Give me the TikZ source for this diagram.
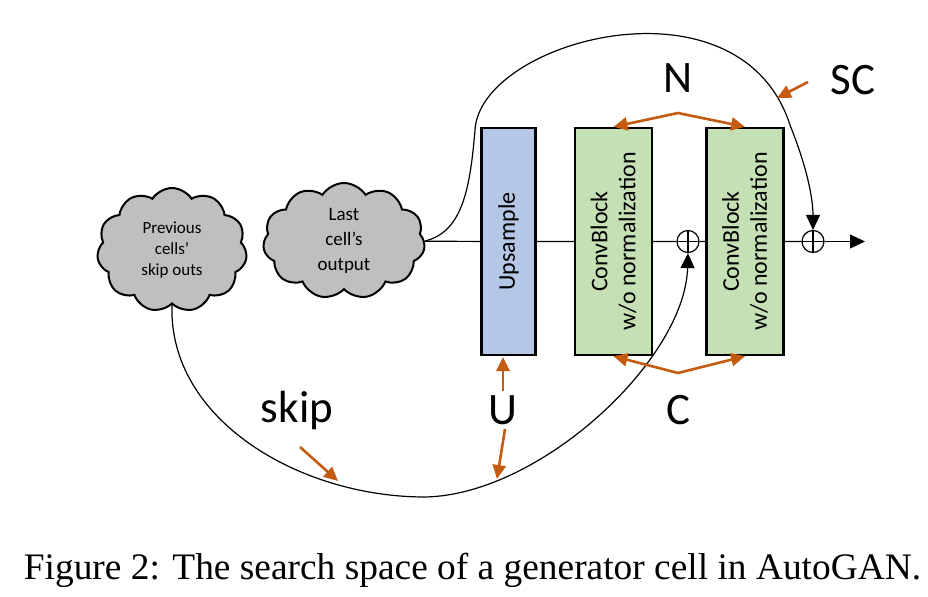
\documentclass[tikz,border=0pt]{standalone}
\usepackage{fontspec}
\setmainfont{Carlito}
\newfontfamily\capfont{Liberation Serif}
\usetikzlibrary{shapes.symbols,arrows.meta}
\definecolor{lgry}{RGB}{191,191,191}
\definecolor{lblu}{RGB}{180,199,231}
\definecolor{lgrn}{RGB}{197,224,180}
\definecolor{dorg}{RGB}{197,90,17}
\tikzstyle{cell}=[
    blob/.style={cloud, cloud puffs=11, cloud puff arc=115, draw=black, line width=1pt, fill=lgry, align=center, inner sep=0pt},
    block/.style={rectangle, draw=black, line width=1.2pt, rotate=90, align=center, minimum width=113.5pt, font={\fontsize{12}{14}\selectfont}},
    plus/.style={circle, draw=black, line width=0.6pt, minimum size=11pt, inner sep=0pt,
        path picture={\draw[line width=0.6pt] (path picture bounding box.north) -- (path picture bounding box.south)
            (path picture bounding box.west) -- (path picture bounding box.east);}},
    wire/.style={black, line width=0.6pt},
    flow/.style={wire, ->, >={Triangle[length=7.5pt,width=7pt]}},
    pick/.style={dorg, line width=1.3pt, line join=round, >={Triangle[length=7pt,width=6.5pt]}},
    lab/.style={font={\fontsize{22.5}{26}\selectfont}},
]
\begin{document}
\begin{tikzpicture}[cell, x=0.5pt, y=-0.5pt]
    \useasboundingbox (0,0) rectangle (928,596);

    \node[blob, minimum width=75pt, minimum height=62pt, font={\fontsize{8.5}{10.3}\selectfont}] (prev) at (172,250) {Previous\\cells’\\skip outs};
    \node[blob, minimum width=81pt, minimum height=58pt, font={\fontsize{9.5}{12.5}\selectfont}] (last) at (344,241) {Last\\cell’s\\output};

    \node[block, fill=lblu, minimum height=27pt] (up) at (508.5,241.5) {Upsample};
    \node[block, fill=lgrn, minimum height=38.5pt] (cb1) at (613.5,241.5) {ConvBlock\\w/o normalization};
    \node[block, fill=lgrn, minimum height=38.5pt] (cb2) at (745,241.5) {ConvBlock\\w/o normalization};
    \node[plus] (p1) at (688,241.5) {};
    \node[plus] (p2) at (813,241.5) {};
    \coordinate (out) at (865,241.5);

    \draw[wire] (last) -- (up) -- (cb1) -- (p1) -- (cb2) -- (p2);
    \draw[flow] (p2) -- (out);
    \draw[flow] (last.east) .. controls (462,232) and (470,190) .. (475,130)
        .. controls (480,40) and (740,-30) .. (790,125)
        .. controls (808,170) and (813,200) .. (p2.north);
    \draw[flow] (prev.south) .. controls (168,420) and (300,497) .. (425,497)
        .. controls (540,495) and (685,360) .. (p1.south);

    \node[lab] (nlab) at (678,78) {N};
    \node[lab] (sclab) at (853,80) {SC};
    \node[lab] (skiplab) at (297,410) {skip};
    \node[lab] (ulab) at (503,410) {U};
    \node[lab] (clab) at (678,410) {C};

    \coordinate (napex) at (678,113);
    \coordinate (capex) at (678,373);
    \draw[pick, <->] (cb1.east) -- (napex) -- (cb2.east);
    \draw[pick, <->] (cb1.west) -- (capex) -- (cb2.west);
    \draw[pick, ->] (503,391) -- (503,357);
    \draw[pick, ->] (505,429) -- (497,479);
    \draw[pick, ->] (300,447) -- (338,481);
    \draw[pick, ->] (808,82) -- (777,98);

    \node[font={\capfont\fontsize{18.7}{21}\selectfont}, anchor=base] (cap) at (472.5,579) {Figure 2: The search space of a generator cell in AutoGAN.};
\end{tikzpicture}
\end{document}
